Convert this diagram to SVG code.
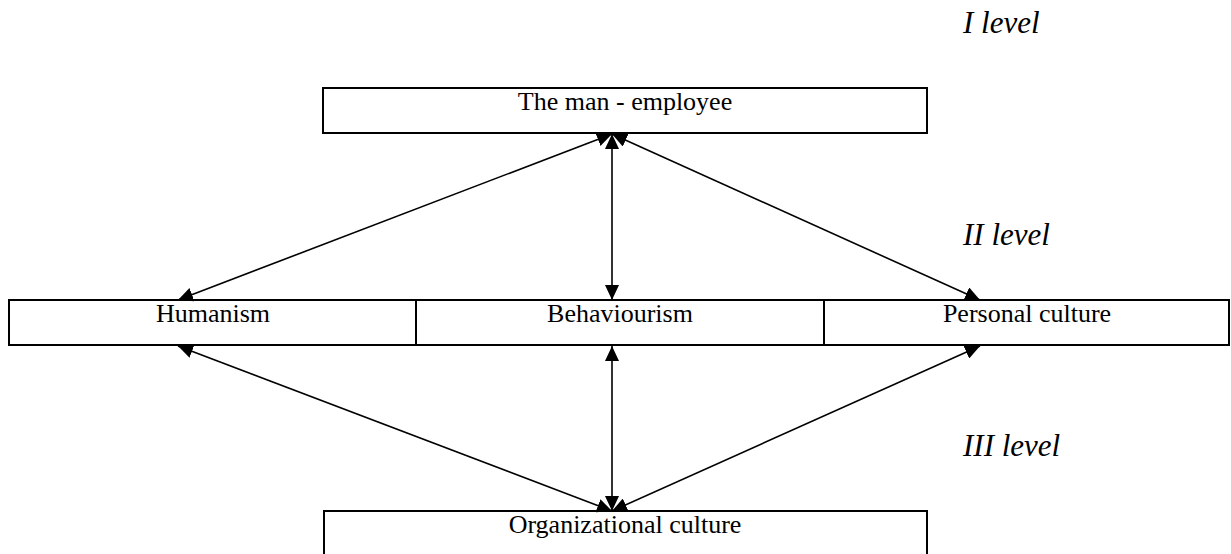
<svg xmlns="http://www.w3.org/2000/svg" width="1231" height="554" viewBox="0 0 1231 554">
<style>
.box{fill:#fff;stroke:#000;stroke-width:2}
.lbl{font-family:"Liberation Serif","Times New Roman",serif;font-size:26px;fill:#000;text-anchor:middle}
.lvl{font-family:"Liberation Serif","Times New Roman",serif;font-size:31px;font-style:italic;fill:#000}
.con{stroke:#000;stroke-width:1.6;fill:none;marker-start:url(#ah);marker-end:url(#ah)}
</style>
<defs>
<marker id="ah" markerUnits="userSpaceOnUse" markerWidth="16" markerHeight="14" refX="15" refY="7" orient="auto-start-reverse">
<path d="M0,0 L15,7 L0,14 z" fill="#000"/>
</marker>
</defs>
<rect width="1231" height="554" fill="#fff"/>
<g id="levels">
<text class="lvl" x="963" y="33">I level</text>
<text class="lvl" x="963" y="245">II level</text>
<text class="lvl" x="963" y="456">III level</text>
</g>
<g id="node-employee">
<rect class="box" x="323" y="88" width="604" height="45"/>
<text class="lbl" x="625" y="110">The man - employee</text>
</g>
<g id="node-humanism">
<rect class="box" x="9" y="300" width="407" height="45"/>
<text class="lbl" x="213" y="322">Humanism</text>
</g>
<g id="node-behaviourism">
<rect class="box" x="416" y="300" width="408" height="45"/>
<text class="lbl" x="620" y="322">Behaviourism</text>
</g>
<g id="node-personal">
<rect class="box" x="824" y="300" width="405" height="45"/>
<text class="lbl" x="1027" y="322">Personal culture</text>
</g>
<g id="node-organizational">
<rect class="box" x="324" y="511" width="603" height="60"/>
<text class="lbl" x="625" y="533">Organizational culture</text>
</g>
<g id="connectors">
<line class="con" x1="612" y1="134" x2="178" y2="300"/>
<line class="con" x1="612" y1="134" x2="612" y2="300"/>
<line class="con" x1="612" y1="134" x2="980" y2="300"/>
<line class="con" x1="178" y1="346" x2="612" y2="511"/>
<line class="con" x1="612" y1="346" x2="612" y2="511"/>
<line class="con" x1="980" y1="346" x2="612" y2="511"/>
</g>
</svg>
